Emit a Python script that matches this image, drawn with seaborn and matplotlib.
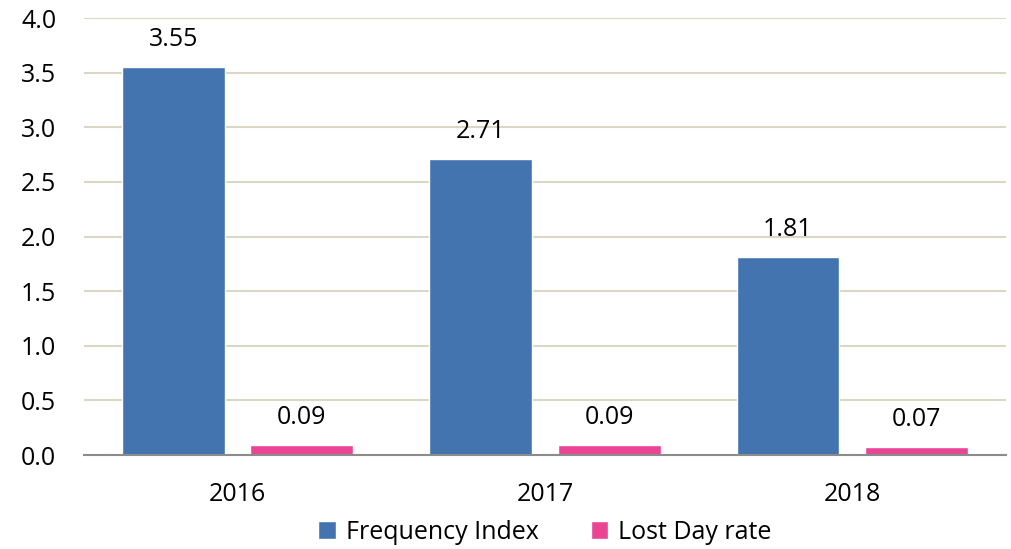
import pandas as pd
import seaborn as sns
import matplotlib.pyplot as plt

years = ["2016", "2017", "2018"]
frequency_index = [3.55, 2.71, 1.81]
lost_day_rate = [0.09, 0.09, 0.07]
series_names = ["Frequency Index", "Lost Day rate"]
y_ticks = [0.0, 0.5, 1.0, 1.5, 2.0, 2.5, 3.0, 3.5, 4.0]

df = pd.DataFrame({
    "year": years * 2,
    "value": frequency_index + lost_day_rate,
    "series": [series_names[0]] * 3 + [series_names[1]] * 3,
})

sns.set_style("white")
plt.rcParams["font.family"] = ["Open Sans", "DejaVu Sans"]
plt.rcParams["text.color"] = "black"
plt.rcParams["xtick.color"] = "black"
plt.rcParams["ytick.color"] = "black"

fig, ax = plt.subplots(figsize=(10.11, 5.49), dpi=100)
fig.subplots_adjust(left=0.083, right=0.995, top=0.967, bottom=0.171)

sns.barplot(data=df, x="year", y="value", hue="series",
            palette=["#4374B0", "#EA4595"], width=0.837, gap=0.2,
            saturation=1, ax=ax)

for cont in ax.containers:
    ax.bar_label(cont, labels=[f"{v:.2f}" for v in cont.datavalues],
                 padding=11, fontsize=18)

ax.set_ylim(0, 4.0)
ax.set_yticks(y_ticks)
ax.set_yticklabels([f"{t:.1f}" for t in y_ticks])
ax.yaxis.grid(True, color="#DAD7C5", linewidth=1.5)
ax.set_axisbelow(True)
ax.tick_params(axis="y", length=0, pad=20, labelsize=18)
ax.tick_params(axis="x", length=0, pad=19, labelsize=18)
ax.set_xlabel("")
ax.set_ylabel("")
for s in ["top", "right", "left"]:
    ax.spines[s].set_visible(False)
ax.spines["bottom"].set_color("#8C8C8C")
ax.spines["bottom"].set_linewidth(1.5)

ax.legend(loc="upper center", bbox_to_anchor=(0.5, -0.096), ncol=2,
          frameon=False, fontsize=18, handlelength=0.7, handleheight=0.7,
          handletextpad=0.4, columnspacing=2.1)

plt.savefig("out.png", dpi=100)
